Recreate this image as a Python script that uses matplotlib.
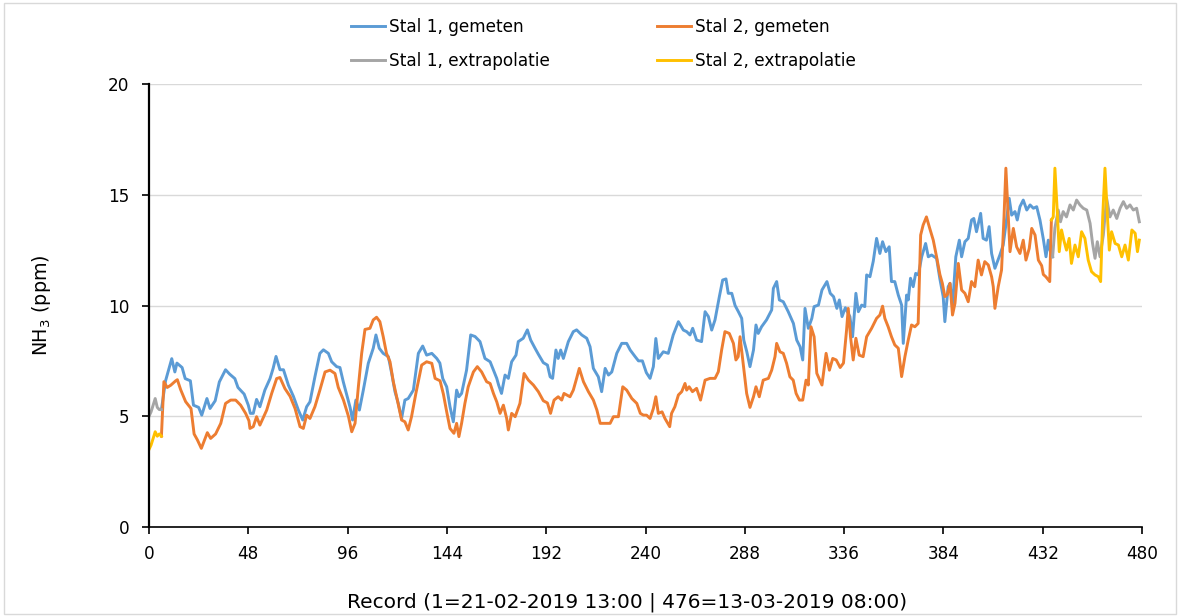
import matplotlib
matplotlib.use("Agg")
import matplotlib.pyplot as plt
from matplotlib.patches import Rectangle

# Stal 1, gemeten
s1_x = [6, 8, 11, 12.5, 13.5, 16, 17.5, 20, 21.5, 24, 25.5, 28, 29.5, 32, 34, 37, 39, 41.5, 43, 46,
        48, 49, 50.4, 52, 53.6, 56, 58.5, 60, 61.4, 63.3, 65, 67.4, 69.8, 72.2, 74.3, 76.2, 77.8,
        80.2, 82.6, 84.3, 86.7, 88.3, 90.7, 92.3, 93.9, 95.5, 97.2, 98.4, 100, 101.7, 103.6, 106,
        108.4, 109.7, 111.3, 113.2, 115.7, 117.3, 118.9, 120.5, 122.1, 123.7, 125.3, 127.8, 130.2,
        132.3, 134.2, 136.7, 139.1, 140.6, 142, 143.9, 145.5, 147.1, 148.7, 149.8, 151.1, 153.5,
        155.5, 157.6, 160, 162.4, 164.9, 166.5, 168.1, 169, 170.4, 172.1, 173.7, 175.3, 177.4,
        178.5, 180.9, 182.9, 184.5, 186.6, 188.2, 190.6, 192.6, 193.9, 195.1, 196.7, 197.8, 199,
        200.3, 202.7, 205.1, 206.7, 209.2, 211.6, 213.2, 214.8, 217.2, 218.8, 220.5, 222.1, 223.7,
        226.1, 228.5, 230.9, 232.6, 235, 236.6, 238.5, 240.4, 242.2, 243.8, 245, 246.2, 248.6, 251,
        253.4, 255.9, 258.3, 259.9, 261.5, 262.8, 264.7, 267.1, 268.8, 270.4, 272, 273.6, 275.7,
        277.3, 278.9, 280, 281.7, 283.3, 284.9, 286.5, 287.5, 289, 290.5, 292.2, 293.4, 294.5,
        296.1, 298.5, 301, 301.8, 303.4, 304.7, 306.6, 309, 311.5, 313.1, 314.7, 316, 317.1, 318.7,
        320.4, 321.5, 323.6, 325.3, 327.7, 329.3, 330.9, 332.5, 333.7, 335, 336.6, 338.8, 340.1,
        341.7, 342.9, 344.5, 346, 346.9, 348.5, 350.1, 351.7, 353.3, 354.6, 356.2, 357.8, 358.9,
        360.5, 362.2, 363.8, 364.6, 366.2, 367, 368.1, 369.4, 370.6, 371.9, 373.5, 375.4, 376.7,
        378.3, 380.7, 382.3, 383.9, 384.7, 386.3, 387.2, 388.4, 390, 391.7, 392.8, 394.4, 396,
        397.6, 398.7, 400, 402, 403.2, 404.8, 406.1, 407.3, 408.9, 411.3, 412.9, 414.5, 415.8, 417,
        418.6, 419.7, 421, 422.6, 424.3, 425.9, 427.5, 429.1, 430.7, 432.3, 433.6, 434.7, 435.5,
        436.8]
s1_y = [5.3, 6.6, 7.6, 7.0, 7.4, 7.2, 6.7, 6.6, 5.5, 5.4, 5.05, 5.8, 5.35, 5.7, 6.55, 7.1, 6.9, 6.7, 6.3, 6.0,
        5.5, 5.13, 5.13, 5.76, 5.43, 6.18, 6.7, 7.16, 7.7, 7.1, 7.1, 6.4, 5.9, 5.28, 4.83, 5.43, 5.65,
        6.78, 7.84, 8.0, 7.84, 7.46, 7.24, 7.2, 6.56, 6.0, 5.4, 4.83, 5.73, 5.28, 6.18, 7.39,
        8.07, 8.67, 8.07, 7.84, 7.69, 6.94, 6.11, 5.58, 4.9, 5.73, 5.8, 6.18, 7.84,
        8.17, 7.76, 7.84, 7.61, 7.4, 6.7, 6.33, 5.43, 4.75, 6.18, 5.88, 6.03, 7.08,
        8.67, 8.6, 8.37, 7.61, 7.46, 7.08, 6.71, 6.41, 6.03, 6.86, 6.71, 7.46, 7.76,
        8.37, 8.52, 8.9, 8.44, 8.07, 7.8, 7.42, 7.31, 6.78, 6.71, 7.99, 7.61, 7.99,
        7.61, 8.37, 8.82, 8.9, 8.67, 8.52, 8.14, 7.16, 6.78, 6.11, 7.16, 6.86, 7.0,
        7.84, 8.29, 8.29, 7.99, 7.69, 7.5, 7.5, 6.97, 6.71, 7.24, 8.51, 7.61, 7.91, 7.84,
        8.67, 9.27, 8.89, 8.82, 8.67, 8.97, 8.44, 8.37, 9.72, 9.5, 8.89, 9.35, 10.4,
        11.15, 11.2, 10.55, 10.55, 10.0, 9.72, 9.42, 8.44, 7.9, 7.24, 7.99, 9.12, 8.74,
        9.04, 9.35, 9.8, 10.77, 11.08, 10.25, 10.17, 9.72, 9.19, 8.44, 8.14, 7.54, 9.87, 8.97,
        9.42, 9.95, 10.02, 10.7, 11.08, 10.55, 10.4, 9.87, 10.25, 9.5, 9.9, 9.5, 8.59,
        10.55, 9.72, 10.02, 9.95, 11.38, 11.3, 12.0, 13.03, 12.35, 12.88, 12.43, 12.65, 11.08,
        11.08, 10.47, 10.02, 8.29, 10.47, 10.25, 11.23, 10.85, 11.45, 11.38, 12.2, 12.8, 12.2,
        12.28, 12.13, 11.2, 10.4, 9.27, 10.85, 11.0, 9.95, 12.2, 12.95, 12.2, 12.88, 13.03,
        13.86, 13.93, 13.33, 14.16, 13.03, 12.95, 13.56, 12.35, 11.68, 12.28, 12.73, 13.86, 14.84, 14.08,
        14.24, 13.86, 14.46, 14.76, 14.31, 14.54, 14.39, 14.46, 13.85, 13.0, 12.2, 12.95, 12.5,
        12.2]

# Stal 2, gemeten
s2_x = [6, 7.2, 8.8, 10.5, 12.9, 13.7, 15.3, 17.7, 20.3, 21.8, 23.4, 25.3, 28.2, 29.8, 32.2, 34.7, 37,
        39.5, 41.9, 44.3, 46.7, 48.3, 48.8, 50.4, 52, 53.6, 56.9, 59.3, 61.7, 63.3, 65.7, 68.2, 70.6,
        73, 74.6, 76.2, 77.8, 80.2, 82.6, 85.1, 87.5, 89.9, 91.5, 94, 96.4, 98, 99.6, 101.2, 102.8,
        104.4, 106.8, 108.4, 110, 111.6, 113.2, 114.8, 116.5, 118.1, 119.7, 122.1, 123.7, 125.3,
        126.9, 129, 131.8, 134.2, 136.7, 138.3, 140.7, 142.3, 143.9, 145.5, 147.4, 148.7, 149.8,
        151.1, 152.7, 154.3, 156.8, 158.7, 160.8, 163.2, 164.9, 166.5, 168.1, 169.7, 171.3, 172.9,
        173.7, 175.3, 177, 179.3, 181.3, 183.4, 185.8, 188.2, 190.6, 192.6, 194.1, 195.8, 197.8,
        199.5, 200.6, 203.5, 205.1, 206.7, 208, 210, 212.4, 214.8, 216.5, 218.1, 220.5, 222.9,
        224.5, 226.9, 229, 230.9, 233.4, 235.8, 237.5, 239, 240.5, 242.2, 243.8, 245, 246.2, 248,
        249.4, 251.7, 252.6, 254.2, 255.9, 257.5, 259.1, 259.9, 261.1, 262.7, 264.7, 266.6, 268.8,
        271.2, 273.6, 275.2, 276.8, 278.4, 280.5, 282.5, 283.7, 284.8, 285.7, 287.3, 288.9, 290.5,
        292.2, 293.4, 295, 296.9, 299.4, 301, 302.6, 303.4, 305, 306.6, 308.2, 309.8, 311.4, 312.8,
        314.4, 316, 317.6, 318.7, 320, 321.5, 322.8, 325.3, 327.3, 328.9, 330.5, 332.2, 334.1,
        335.7, 337.2, 338, 339.1, 340.4, 341.7, 343.3, 345.2, 346.9, 349.3, 351.7, 353.3, 354.6,
        355.7, 357.3, 358.9, 360.5, 362.2, 363.8, 365.4, 367, 368.6, 370.2, 371.8, 373, 374.2,
        375.8, 377.4, 379.1, 380.7, 382.3, 383.5, 384.7, 385.9, 387.2, 388.4, 389.6, 391.2, 392.8,
        394.4, 396, 397.6, 399.2, 400.8, 402.4, 404, 405.7, 407.3, 408.1, 408.9, 410.5, 412.1,
        413.3, 414.2, 415.3, 416.2, 417.8, 419.4, 421, 422.6, 423.9, 425.5, 426.7, 428.3, 429.9,
        431.5, 432.3, 433.5, 435.4, 436.2]
s2_y = [4.1, 6.56, 6.3, 6.4, 6.6, 6.65, 6.2, 5.66, 5.35, 4.2, 3.93, 3.55, 4.26, 4.0, 4.2, 4.68, 5.58,
        5.73, 5.73, 5.5, 5.13, 4.8, 4.45, 4.53, 4.98, 4.6, 5.28, 6.03, 6.7, 6.75, 6.25, 5.9, 5.35,
        4.53, 4.45, 5.05, 4.9, 5.43, 6.18, 7.0, 7.08, 6.93, 6.3, 5.73, 5.0, 4.3, 4.68, 6.33, 7.84,
        8.92, 8.97, 9.35, 9.47, 9.27, 8.6, 7.84, 7.46, 6.56, 5.88, 4.83, 4.75, 4.38,
        4.98, 6.03, 7.31, 7.46, 7.39, 6.71, 6.6, 6.0, 5.2, 4.45, 4.23, 4.68, 4.08,
        4.68, 5.58, 6.33, 7.0, 7.24, 7.0, 6.56, 6.48, 6.03, 5.65, 5.13, 5.5, 4.9,
        4.38, 5.13, 4.98, 5.58, 6.93, 6.63, 6.41, 6.11, 5.7, 5.6, 5.13, 5.73, 5.88,
        5.73, 6.03, 5.88, 6.18, 6.71, 7.16, 6.56, 6.11, 5.73, 5.28, 4.68, 4.68, 4.68,
        4.98, 4.98, 6.33, 6.18, 5.8, 5.58, 5.13, 5.05, 5.05, 4.9, 5.35, 5.88, 5.13, 5.2,
        4.9, 4.53, 5.13, 5.43, 5.96, 6.11, 6.48, 6.18, 6.33, 6.11, 6.26, 5.73, 6.63,
        6.71, 6.71, 7.01, 7.99, 8.82, 8.74, 8.29, 7.54, 7.69, 8.59, 7.3, 6.03, 5.4,
        5.88, 6.33, 5.88, 6.63, 6.71, 7.08, 7.69, 8.29, 7.91, 7.84, 7.39, 6.78, 6.63, 6.03,
        5.73, 5.73, 6.63, 6.41, 9.04, 8.59, 6.94, 6.41, 7.84, 7.08, 7.61, 7.54, 7.2,
        7.4, 8.9, 9.87, 8.59, 7.54, 8.52, 7.76, 7.69, 8.59, 8.97, 9.42, 9.57, 9.97,
        9.42, 9.04, 8.59, 8.22, 8.07, 6.79, 7.69, 8.44, 9.12, 9.04, 9.19, 13.18, 13.63,
        14.0, 13.48, 12.95, 12.2, 11.4, 11.0, 10.4, 10.5, 11.0, 9.57, 10.1, 11.9, 10.7,
        10.55, 10.17, 11.08, 10.85, 12.05, 11.38, 11.98, 11.83, 11.3, 10.85, 9.87, 10.85, 11.6,
        14.0, 16.2, 14.16, 12.43, 13.48, 12.65, 12.35, 12.95, 12.05, 12.58, 13.48, 13.18, 12.05,
        11.8, 11.4, 11.3, 11.08, 13.86]

# Stal 1, extrapolatie (begin and end pieces)
e1_x = [0, 1, 2, 3, 4, 5, 6,
        436.8, 437.9, 439.5, 440.6, 441.9, 443.5, 445.2, 446.8, 448.4, 450, 451.6, 453.3, 454.9,
        456.1, 457.3, 458.4, 459.7, 461.3, 462.9, 464.5, 466.1, 467.8, 469.4, 471, 472.6, 474.2,
        475.8, 477.4, 478.7]
e1_y = [5.0, 5.2, 5.5, 5.8, 5.4, 5.3, 5.3,
        12.2, 13.5, 14.31, 13.78, 14.24, 14.0, 14.54, 14.31, 14.76, 14.54, 14.39, 14.31, 13.71,
        12.8, 12.13, 12.88, 12.2, 13.18, 14.84, 14.0, 14.31, 13.93, 14.39, 14.69, 14.39, 14.54,
        14.31, 14.39, 13.78]
e1_split = 7

# Stal 2, extrapolatie (begin and end pieces)
e2_x = [0, 1, 2, 3, 4, 5, 6,
        436.2, 437.1, 437.9, 439, 440, 441.1, 442.2, 443.5, 444.8, 445.9, 447.6, 449.2, 450.8,
        452.4, 454, 455.6, 457.3, 458.9, 460, 461, 462.1, 463.3, 464.2, 465.3, 467, 468.6, 470.2,
        471.8, 473.4, 475.1, 476.7, 477.8, 478.7]
e2_y = [3.5, 3.7, 4.0, 4.3, 4.1, 4.2, 4.1,
        13.86, 14.0, 16.2, 14.31, 12.43, 13.41, 12.95, 12.5, 13.03, 11.9, 12.73, 12.2, 13.33,
        13.03, 12.05, 11.53, 11.38, 11.3, 11.08, 14.0, 16.2, 14.0, 12.5, 13.33, 12.8, 12.73, 12.2,
        12.73, 12.05, 13.41, 13.26, 12.43, 12.95]
e2_split = 7

blue = "#5B9BD5"
orange = "#ED7D31"
grey = "#A5A5A5"
yellow = "#FFC000"

plt.rcParams['font.family'] = ['DejaVu Sans']
plt.rcParams['font.size'] = 12.2

fig = plt.figure(figsize=(11.81, 6.16), dpi=100)
ax = fig.add_axes([149 / 1181, 1 - 527 / 616, 993 / 1181, 443 / 616])

lw = 2.1
l1, = ax.plot(s1_x, s1_y, color=blue, lw=lw, solid_joinstyle='round', label="Stal 1, gemeten")
l2, = ax.plot(s2_x, s2_y, color=orange, lw=lw, solid_joinstyle='round', label="Stal 2, gemeten")
l3, = ax.plot(e1_x[:e1_split], e1_y[:e1_split], color=grey, lw=lw, label="Stal 1, extrapolatie")
ax.plot(e1_x[e1_split:], e1_y[e1_split:], color=grey, lw=lw, solid_joinstyle='round')
l4, = ax.plot(e2_x[:e2_split], e2_y[:e2_split], color=yellow, lw=lw, label="Stal 2, extrapolatie")
ax.plot(e2_x[e2_split:], e2_y[e2_split:], color=yellow, lw=lw, solid_joinstyle='round')

ax.set_xlim(0, 480)
ax.set_ylim(0, 20)
ax.set_xticks(range(0, 481, 48))
ax.set_yticks(range(0, 21, 5))
ax.grid(axis='y', color="#D9D9D9", lw=1)
ax.set_axisbelow(True)

for side in ("top", "right"):
    ax.spines[side].set_visible(False)
ax.spines["left"].set_linewidth(1.6)
ax.spines["bottom"].set_linewidth(1.2)
ax.tick_params(axis='y', length=5, width=1.2, pad=9)
ax.tick_params(axis='x', length=5, width=1.2, pad=8)

ax.set_ylabel("NH$_3$ (ppm)", fontsize=13.8)
ax.yaxis.set_label_coords(-0.097, 0.5)
ax.set_xlabel("Record (1=21-02-2019 13:00 | 476=13-03-2019 08:00)", fontsize=14.5)
ax.xaxis.set_label_coords(0.481, -0.147)

fig.legend(handles=[l1, l3, l2, l4], ncol=2, loc="upper center",
           bbox_to_anchor=(0.511, 0.988), frameon=False, borderaxespad=0.2,
           handlelength=2.0, handletextpad=0.25, columnspacing=6.3, labelspacing=0.95)

fig.patches.append(Rectangle((4 / 1181, 2 / 616), 1172 / 1181, 611 / 616,
                             transform=fig.transFigure, fill=False,
                             edgecolor="#D9D9D9", lw=1))

fig.savefig("out.png", dpi=100)
